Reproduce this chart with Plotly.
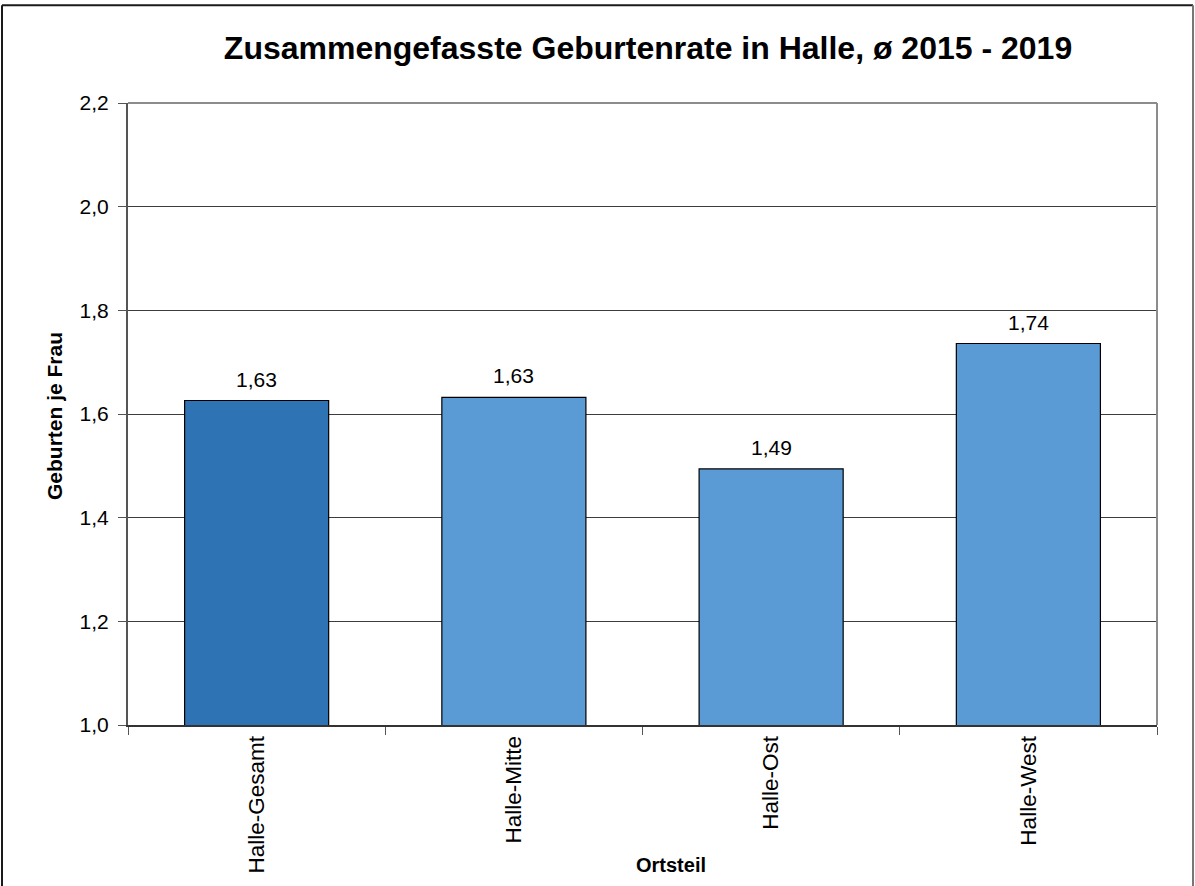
import plotly.graph_objects as go

categories = ["Halle-Gesamt", "Halle-Mitte", "Halle-Ost", "Halle-West"]
values = [1.626, 1.632, 1.494, 1.736]
bar_colors = ["#2E74B5", "#5B9BD5", "#5B9BD5", "#5B9BD5"]
y_ticks = [1.0, 1.2, 1.4, 1.6, 1.8, 2.0, 2.2]
y_ticktext = ["1,0", "1,2", "1,4", "1,6", "1,8", "2,0", "2,2"]

title_text = "Zusammengefasste Geburtenrate in Halle, ø 2015 - 2019"
x_title = "Ortsteil"
y_title = "Geburten je Frau"

FONT = "Liberation Sans, Arial, sans-serif"
W, H = 1195, 886
L, R, T, B = 128, 38, 103, 159
PW, PH = W - L - R, H - T - B


def px_x(p):
    return (p - L) / PW


def px_y(p):
    return (H - B - p) / PH


fig = go.Figure()
fig.add_trace(go.Bar(
    x=categories, y=values,
    marker=dict(color=bar_colors, line=dict(color="#000000", width=1.2)),
    width=0.56,
    showlegend=False,
    hoverinfo="x+y",
))

annotations = []
for c, v in zip(categories, values):
    annotations.append(dict(
        x=c, y=v, xref="x", yref="y",
        text=f"{v:.2f}".replace(".", ","),
        showarrow=False, yanchor="bottom", yshift=8,
        font=dict(family=FONT, size=21, color="#000000"),
    ))

annotations.append(dict(
    x=px_x(671), y=px_y(867), xref="paper", yref="paper",
    text=f"<b>{x_title}</b>", showarrow=False,
    xanchor="center", yanchor="middle",
    font=dict(family=FONT, size=20, color="#000000"),
))
annotations.append(dict(
    x=px_x(55), y=px_y(417), xref="paper", yref="paper",
    text=f"<b>{y_title}</b>", showarrow=False, textangle=-90,
    xanchor="center", yanchor="middle",
    font=dict(family=FONT, size=21, color="#000000"),
))

shapes = [
    # outer chart border
    dict(type="line", xref="paper", yref="paper",
         x0=px_x(2), x1=px_x(1193), y0=px_y(5), y1=px_y(5),
         line=dict(color="#1a1a1a", width=2)),
    dict(type="line", xref="paper", yref="paper",
         x0=px_x(2), x1=px_x(2), y0=px_y(5), y1=px_y(900),
         line=dict(color="#1a1a1a", width=2)),
    dict(type="line", xref="paper", yref="paper",
         x0=px_x(1193), x1=px_x(1193), y0=px_y(5), y1=px_y(900),
         line=dict(color="#777777", width=2)),
    # plot frame top/right
    dict(type="line", xref="paper", yref="paper",
         x0=0, x1=1, y0=1, y1=1, line=dict(color="#8c8c8c", width=2)),
    dict(type="line", xref="paper", yref="paper",
         x0=1, x1=1, y0=0, y1=1, line=dict(color="#8c8c8c", width=2)),
]

fig.update_layout(
    width=W, height=H,
    margin=dict(l=L, r=R, t=T, b=B),
    paper_bgcolor="#ffffff", plot_bgcolor="#ffffff",
    bargap=0.44,
    title=dict(
        text=f"<b>{title_text}</b>",
        x=px_x(648), xref="paper", xanchor="center",
        y=1 - 48 / H, yref="container", yanchor="middle",
        font=dict(family=FONT, size=32, color="#000000"),
    ),
    xaxis=dict(
        type="category",
        showline=True, linecolor="#333333", linewidth=2,
        ticks="outside", tickson="boundaries", ticklen=8, tickcolor="#555555", tickwidth=1,
        tickangle=-90,
        tickfont=dict(family=FONT, size=22.5, color="#000000"),
        showgrid=False, zeroline=False,
    ),
    yaxis=dict(
        range=[1.0, 2.2],
        tickmode="array", tickvals=y_ticks, ticktext=y_ticktext,
        showline=True, linecolor="#555555", linewidth=2,
        ticks="outside", ticklen=8, tickcolor="#555555", tickwidth=1,
        tickfont=dict(family=FONT, size=21, color="#000000"),
        ticklabelstandoff=5,
        showgrid=True, gridcolor="#3c3c3c", gridwidth=1,
        zeroline=False,
    ),
    annotations=annotations,
    shapes=shapes,
)

fig.write_html(
    "out.html",
    config={"displayModeBar": False},
    post_script="document.body.style.margin='0';document.body.style.overflow='hidden';",
)
